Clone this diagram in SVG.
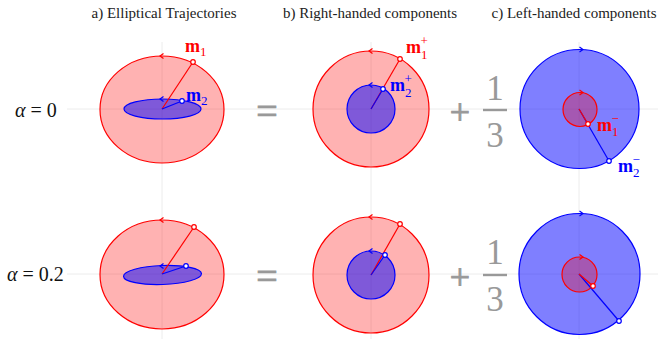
<svg xmlns="http://www.w3.org/2000/svg" xmlns:xlink="http://www.w3.org/1999/xlink" width="658" height="339" viewBox="0 0 658 339">
<style>
.title{font-family:"Liberation Serif","Times New Roman",serif;font-size:15px;fill:#222;text-anchor:middle}
.alpha{font-family:"Liberation Serif","Times New Roman",serif;font-size:20px;fill:#111}
.op{font-family:"Liberation Serif","Times New Roman",serif;fill:#999;text-anchor:middle}
.thick{stroke:#999;stroke-width:0.9}
.grid{stroke:#ececec;stroke-width:1;fill:none}
.rfill{fill:rgba(255,0,0,0.3);stroke:#f00;stroke-width:1.2}
.bfill{fill:rgba(0,0,255,0.5);stroke:#00f;stroke-width:1.2}
.rl{stroke:#f00;stroke-width:1.2}
.bl{stroke:#00f;stroke-width:1.2}
.rp{fill:#fff;stroke:#f00;stroke-width:1.2}
.bp{fill:#fff;stroke:#00f;stroke-width:1.2}
.lab{font-family:"Liberation Serif","Times New Roman",serif;font-weight:bold;font-size:18px}
.sub{font-family:"Liberation Serif","Times New Roman",serif;font-weight:normal;font-size:13px}
.red{fill:#f00}
.blue{fill:#00f}
</style>
<defs>
<path id="chevL" d="M3.5,-2.6 L0,0 L3.5,2.6" fill="none" stroke-width="1.2"/>
<path id="chevR" d="M-3.5,-2.6 L0,0 L-3.5,2.6" fill="none" stroke-width="1.2"/>
</defs>

<g id="grid">
<line class="grid" x1="67" y1="109" x2="658" y2="109"/>
<line class="grid" x1="67" y1="274" x2="658" y2="274"/>
<line class="grid" x1="162" y1="42" x2="162" y2="339"/>
<line class="grid" x1="371" y1="42" x2="371" y2="339"/>
<line class="grid" x1="579" y1="42" x2="579" y2="339"/>
</g>

<g id="titles">
<text class="title" x="164" y="18">a) Elliptical Trajectories</text>
<text class="title" x="370" y="18">b) Right-handed components</text>
<text class="title" x="574" y="18">c) Left-handed components</text>
</g>

<g id="row-labels">
<text class="alpha" x="15" y="117"><tspan font-style="italic">α</tspan> = 0</text>
<text class="alpha" x="7" y="281"><tspan font-style="italic">α</tspan> = 0.2</text>
</g>

<g id="operators">
<text class="op thick" x="267" y="124" font-size="38">=</text>
<text class="op thick" x="460" y="124" font-size="36">+</text>
<text class="op" x="495" y="100" font-size="35">1</text>
<line x1="483" y1="110" x2="507" y2="110" stroke="#999" stroke-width="2.4"/>
<text class="op" x="495" y="147" font-size="35">3</text>
<text class="op thick" x="267" y="289" font-size="38">=</text>
<text class="op thick" x="460" y="289" font-size="36">+</text>
<text class="op" x="495" y="264" font-size="35">1</text>
<line x1="483" y1="275" x2="507" y2="275" stroke="#999" stroke-width="2.4"/>
<text class="op" x="495" y="311" font-size="35">3</text>
</g>

<g id="panel-a-top">
<ellipse class="rfill" cx="162" cy="109.5" rx="62" ry="53.5"/>
<ellipse class="bfill" cx="162.5" cy="109" rx="38.5" ry="10"/>
<use xlink:href="#chevL" x="160" y="56" stroke="#f00"/>
<use xlink:href="#chevL" x="160" y="99" stroke="#00f"/>
<line class="rl" x1="162" y1="109" x2="193" y2="62"/>
<line class="bl" x1="162" y1="109" x2="182" y2="101"/>
<circle class="rp" cx="193" cy="62" r="2.3"/>
<circle class="bp" cx="182" cy="101" r="2.3"/>
<text class="lab red" x="185" y="52">m<tspan class="sub" dy="4">1</tspan></text>
<text class="lab blue" x="186" y="101">m<tspan class="sub" dy="4">2</tspan></text>
</g>

<g id="panel-a-bottom">
<ellipse class="rfill" cx="162" cy="274.5" rx="62" ry="54.5"/>
<ellipse class="bfill" cx="162.5" cy="275" rx="39" ry="9.5" transform="rotate(-2 162.5 275)"/>
<use xlink:href="#chevL" x="160" y="220" stroke="#f00"/>
<use xlink:href="#chevL" x="160" y="266" stroke="#00f"/>
<line class="rl" x1="162" y1="274" x2="194" y2="227"/>
<line class="bl" x1="162" y1="274" x2="186" y2="266"/>
<circle class="rp" cx="194" cy="227" r="2.3"/>
<circle class="bp" cx="186" cy="266" r="2.3"/>
</g>

<g id="panel-b-top">
<circle class="rfill" cx="371" cy="109" r="58"/>
<circle class="bfill" cx="371" cy="109" r="24"/>
<use xlink:href="#chevL" x="369" y="51" stroke="#f00"/>
<use xlink:href="#chevL" x="369" y="85" stroke="#00f"/>
<line class="rl" x1="371" y1="109" x2="400" y2="59"/>
<line class="bl" x1="371" y1="109" x2="383" y2="89"/>
<circle class="rp" cx="400" cy="59" r="2.3"/>
<circle class="bp" cx="383" cy="89" r="2.3"/>
<text class="lab red" x="406" y="53">m<tspan class="sub" dy="6">1</tspan><tspan class="sub" dx="-7" dy="-14">+</tspan></text>
<text class="lab blue" x="390" y="91">m<tspan class="sub" dy="6">2</tspan><tspan class="sub" dx="-7" dy="-14">+</tspan></text>
</g>

<g id="panel-b-bottom">
<circle class="rfill" cx="371" cy="275" r="58"/>
<circle class="bfill" cx="371" cy="275" r="24"/>
<use xlink:href="#chevL" x="369" y="217" stroke="#f00"/>
<use xlink:href="#chevL" x="369" y="251" stroke="#00f"/>
<line class="rl" x1="371" y1="275" x2="400" y2="224"/>
<line class="bl" x1="371" y1="275" x2="385" y2="255"/>
<circle class="rp" cx="400" cy="224" r="2.3"/>
<circle class="bp" cx="385" cy="255" r="2.3"/>
</g>

<g id="panel-c-top">
<circle class="bfill" cx="579.5" cy="109" r="59.5"/>
<circle class="rfill" cx="580" cy="109.5" r="17"/>
<use xlink:href="#chevR" x="583" y="49.5" stroke="#00f"/>
<use xlink:href="#chevR" x="583" y="92.5" stroke="#f00"/>
<line class="bl" x1="579" y1="109" x2="609" y2="161"/>
<line class="rl" x1="579" y1="109" x2="588" y2="124"/>
<circle class="rp" cx="588" cy="124" r="2.3"/>
<circle class="bp" cx="609" cy="161" r="2.3"/>
<text class="lab red" x="597" y="131">m<tspan class="sub" dy="5">1</tspan><tspan class="sub" dx="-7" dy="-13">−</tspan></text>
<text class="lab blue" x="618" y="172">m<tspan class="sub" dy="5">2</tspan><tspan class="sub" dx="-7" dy="-13">−</tspan></text>
</g>

<g id="panel-c-bottom">
<circle class="bfill" cx="579.5" cy="274" r="60.5"/>
<circle class="rfill" cx="579.5" cy="274.5" r="17.5"/>
<use xlink:href="#chevR" x="583" y="213.5" stroke="#00f"/>
<use xlink:href="#chevR" x="583" y="257" stroke="#f00"/>
<line class="bl" x1="579" y1="274" x2="619" y2="321"/>
<line class="rl" x1="579" y1="274" x2="593" y2="286"/>
<circle class="rp" cx="593" cy="286" r="2.3"/>
<circle class="bp" cx="619" cy="321" r="2.3"/>
</g>
</svg>
